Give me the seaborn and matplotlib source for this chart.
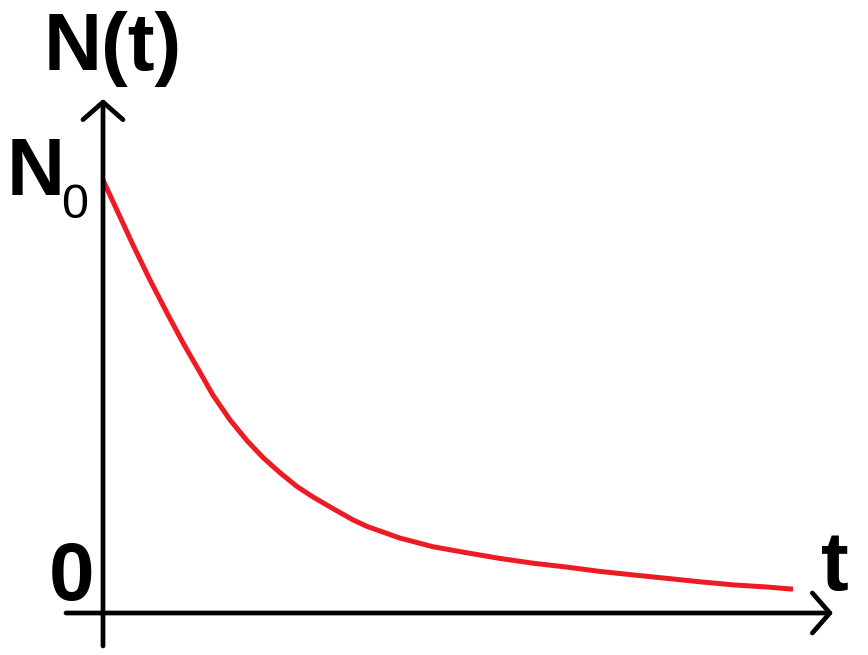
"""Decay curve N(t) sketch recreated with seaborn."""

import matplotlib

matplotlib.use("Agg")
import matplotlib.pyplot as plt
import pandas as pd
import seaborn as sns

# curve (N0 = 100)
t_values = [0.0, 0.435, 0.681, 0.928, 1.159, 1.362, 1.594, 1.841, 2.087, 2.319,
            2.565, 2.812, 3.043, 3.290, 3.623, 3.826, 4.304, 4.783, 5.275, 5.754,
            6.232, 6.725, 7.203, 7.681, 8.174, 8.652, 9.130, 9.623, 10.0]
n_values = [100.0, 85.0, 76.9, 69.3, 62.4, 56.8, 50.3, 44.6, 39.8, 35.9,
            32.4, 29.2, 26.8, 24.5, 21.5, 20.0, 17.3, 15.3, 13.9, 12.6,
            11.5, 10.6, 9.6, 8.8, 8.0, 7.2, 6.5, 6.0, 5.5]

y_label = "N(t)"
x_label = "t"
n0_label = "N"
n0_sub = "0"
zero_label = "0"

df = pd.DataFrame({"t": t_values, "N": n_values})

sns.set_theme(style="white")
plt.rcParams["font.family"] = ["Liberation Sans", "DejaVu Sans"]
plt.rcParams["text.color"] = "black"

fig = plt.figure(figsize=(8.68, 6.55), dpi=100)
ax = fig.add_axes([0, 0, 1, 1])

sns.lineplot(data=df, x="t", y="N", color="#ED1C24", linewidth=3.6, ax=ax,
             solid_capstyle="butt", solid_joinstyle="round")

# pixel-aligned view: origin at (103, 613), 69 px per t unit, 4.33 px per N unit
ax.set_xlim(-103 / 69, (868 - 103) / 69)
ax.set_ylim((613 - 655) / 4.33, 613 / 4.33)
ax.set_axis_off()

arrow = dict(arrowstyle="->,head_length=1.05,head_width=1.2", lw=3.4, color="black",
             shrinkA=0, shrinkB=0, capstyle="round", joinstyle="round")
# vertical axis
ax.annotate("", xy=(0, (613 - 99) / 4.33), xytext=(0, (613 - 646) / 4.33),
            arrowprops=arrow)
# horizontal axis
ax.annotate("", xy=((833 - 103) / 69, 0), xytext=((66 - 103) / 69, 0),
            arrowprops=arrow)


def px(x, y):
    return x / 868, 1 - y / 655


fig.text(*px(44, 70), y_label, fontsize=58, fontweight="bold", ha="left", va="baseline")
fig.text(*px(7, 195), n0_label, fontsize=58, fontweight="bold", ha="left", va="baseline")
fig.text(*px(61, 218), n0_sub, fontsize=35, ha="left", va="baseline")
fig.text(*px(49, 600), zero_label, fontsize=59, fontweight="bold", ha="left", va="baseline")
fig.text(*px(821, 590), x_label, fontsize=60, fontweight="bold", ha="left", va="baseline")

fig.savefig("out.png", dpi=100)
plt.close(fig)
